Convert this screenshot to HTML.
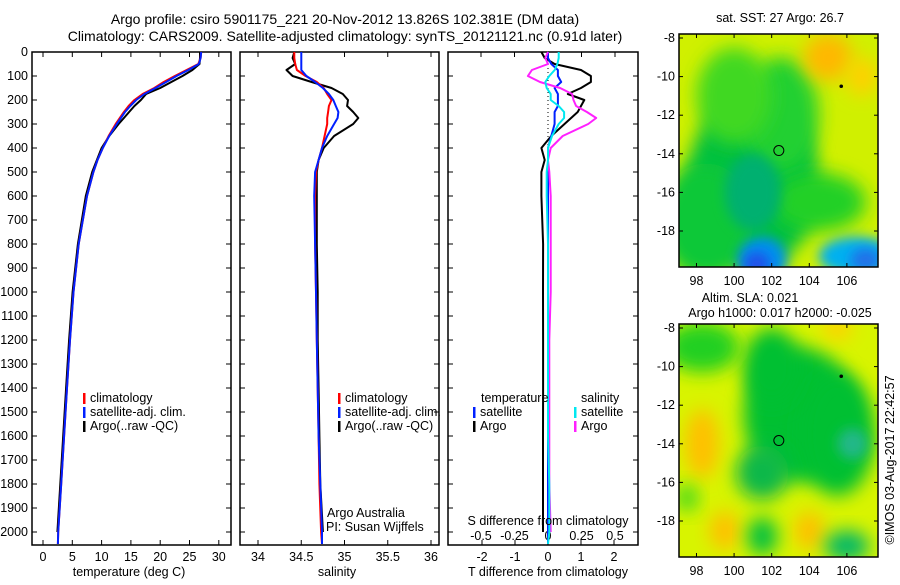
<!DOCTYPE html>
<html><head><meta charset="utf-8">
<style>
html,body{margin:0;padding:0;background:#fff;}
svg text{font-family:"Liberation Sans",sans-serif;font-size:12.5px;fill:#000;}
svg text.t{font-size:14px;}
</style></head>
<body>
<svg id="c" width="900" height="580" xmlns="http://www.w3.org/2000/svg">
<defs>
<filter id="b1" x="-50%" y="-50%" width="200%" height="200%"><feGaussianBlur stdDeviation="9"/></filter>
<filter id="b2" x="-50%" y="-50%" width="200%" height="200%"><feGaussianBlur stdDeviation="6"/></filter>
<clipPath id="m1"><rect x="679" y="34" width="199" height="233"/></clipPath>
<clipPath id="m2"><rect x="679" y="324" width="199" height="233"/></clipPath>
</defs>
<text class="t" x="345" y="24" text-anchor="middle">Argo profile: csiro 5901175_221 20-Nov-2012 13.826S 102.381E (DM data)</text>
<text class="t" x="345" y="41" text-anchor="middle">Climatology: CARS2009. Satellite-adjusted climatology: synTS_20121121.nc (0.91d later)</text>
<g id="maps"></g>
<g id="plots"></g>
<text transform="translate(894,460) rotate(-90)" text-anchor="middle">©IMOS 03-Aug-2017 22:42:57</text>
</svg>
<script>
const depths = [0,25,50,75,100,125,150,175,200,225,250,275,300,350,400,450,500,600,800,1000,1200,1400,1600,1800,2000,2050];
const climT = [27,26.9,26.5,24.5,22.5,20.6,19,17,15.6,14.6,13.8,13.1,12.4,11.2,10.2,9.3,8.6,7.5,6.1,5.2,4.6,4.1,3.6,3.1,2.6,2.55];
const satT  = [27,26.9,26.6,24.8,22.8,21,19.2,17.3,15.9,14.9,14,13.3,12.6,11.3,10.2,9.3,8.6,7.5,6.1,5.2,4.6,4.1,3.6,3.1,2.6,2.55];
const argoT = [26.8,26.8,26.7,25.5,23.8,21.9,20,17.6,16.7,15.6,14.7,13.8,12.9,11.3,10.0,9.2,8.4,7.3,5.95,5.05,4.45,3.95,3.45,2.95,2.45,null];
const climS = [34.42,34.42,34.43,34.45,34.55,34.68,34.76,34.8,34.85,34.82,34.81,34.8,34.8,34.77,34.74,34.7,34.67,34.66,34.66,34.67,34.68,34.69,34.7,34.71,34.73,34.74];
const satS  = [34.5,34.5,34.5,34.5,34.56,34.66,34.75,34.82,34.87,34.9,34.93,34.92,34.88,34.8,34.74,34.7,34.66,34.65,34.66,34.67,34.68,34.69,34.7,34.72,34.74,34.74];
const argoS = [34.42,34.4,34.43,34.33,34.4,34.62,34.85,34.98,35.04,35.03,35.1,35.16,35.1,34.88,34.76,34.7,34.68,34.68,34.68,34.69,34.69,34.7,34.71,34.72,34.75,null];
const depthTicks = [0,100,200,300,400,500,600,700,800,900,1000,1100,1200,1300,1400,1500,1600,1700,1800,1900,2000];
const tTicks = [0,5,10,15,20,25,30];
const sTicks = [34,34.5,35,35.5,36];
const dTTicks = [-2,-1,0,1,2];
const dSTicks = [-0.5,-0.25,0,0.25,0.5];
const dSLabels = ["-0.5","-0.25","0","0.25","0.5"];
const lonTicks = [98,100,102,104,106];
const latTicks = [-8,-10,-12,-14,-16,-18];

const NS="http://www.w3.org/2000/svg";
const plots=document.getElementById('plots');
const maps=document.getElementById('maps');
function mk(tag,attrs,parent){const e=document.createElementNS(NS,tag);for(const k in attrs)e.setAttribute(k,attrs[k]);(parent||plots).appendChild(e);return e;}
function txt(x,y,s,anchor,parent){const t=mk('text',{x:x,y:y,'text-anchor':anchor||'start'},parent);t.textContent=s;return t;}
const Y0=52,Y1=545;
const yD=d=>Y0+d*0.24;
const xT=v=>43+v*5.86;
const xS=v=>258+(v-34)*86.5;
const xDT=v=>548+v*33;
const xDS=v=>548+v*134;

function frame(x0,x1,name){
  const r=mk('rect',{x:x0,y:Y0,width:x1-x0,height:Y1-Y0,fill:'none',stroke:'#000','stroke-width':1.5});
  
  
  depthTicks.forEach(d=>{
    mk('line',{x1:x0,x2:x0+5,y1:yD(d),y2:yD(d),stroke:'#000'});
    mk('line',{x1:x1,x2:x1-5,y1:yD(d),y2:yD(d),stroke:'#000'});
  });
}
function xticks(vals,fx,labels,x0,x1,ly,top){
  vals.forEach((v,i)=>{
    const x=fx(v);
    mk('line',{x1:x,x2:x,y1:Y1,y2:Y1-5,stroke:'#000'});
    if(top) mk('line',{x1:x,x2:x,y1:Y0,y2:Y0+5,stroke:'#000'});
    const t=txt(x,ly,labels[i],'middle');
    
    
  });
}
function line(vals,fx,color,name){
  let d='';
  vals.forEach((v,i)=>{if(v===null)return;d+=(d?'L':'M')+fx(v).toFixed(1)+','+yD(depths[i]).toFixed(1);});
  const p=mk('path',{d:d,fill:'none',stroke:color,'stroke-width':2,'stroke-linejoin':'round'});
  
  
}
function legend(x,y,color,label){
  mk('rect',{x:x,y:y-9,width:2.5,height:11,fill:color});
  const t=txt(x+7,y,label);
  
  
}

depthTicks.forEach(d=>{const t=txt(28,yD(d)+4,String(d),'end');
  
  });

frame(32,231,'temperature-panel');
xticks(tTicks,xT,tTicks.map(String),32,231,561,true);
line(argoT,xT,'#000','argo-temperature-line');
line(climT,xT,'#f00','climatology-temperature-line');
line(satT,xT,'#0020ff','satellite-temperature-line');
legend(83,402,'#f00','climatology');legend(83,416,'#0020ff','satellite-adj. clim.');legend(83,430,'#000','Argo(..raw -QC)');
{const t=txt(129,576,'temperature (deg C)','middle');}

frame(240,439,'salinity-panel');
xticks(sTicks,xS,sTicks.map(String),240,439,561,true);
line(argoS,xS,'#000','argo-salinity-line');
line(climS,xS,'#f00','climatology-salinity-line');
line(satS,xS,'#0020ff','satellite-salinity-line');
legend(338,402,'#f00','climatology');legend(338,416,'#0020ff','satellite-adj. clim.');legend(338,430,'#000','Argo(..raw -QC)');
txt(327,517,'Argo Australia');txt(326,531,'PI: Susan Wijffels');
{const t=txt(337,576,'salinity','middle');}

frame(448,638,'difference-panel');
mk('line',{x1:548,x2:548,y1:Y0,y2:Y1,stroke:'#000','stroke-dasharray':'1,3'});
xticks(dTTicks,xDT,dTTicks.map(String),448,638,561,false);
dSTicks.forEach((v,i)=>{const x=xDS(v);mk('line',{x1:x,x2:x,y1:Y0,y2:Y0+5,stroke:'#000'});
  const t=txt(x,540,dSLabels[i],'middle');});
const dTsat=satT.map((v,i)=>v-climT[i]);
const dTargo=argoT.map((v,i)=>v===null?null:v-climT[i]);
const dSsat=satS.map((v,i)=>v-climS[i]);
const dSargo=argoS.map((v,i)=>v===null?null:v-climS[i]);
line(dTargo,xDT,'#000','argo-temperature-difference-line');
line(dTsat,xDT,'#0020ff','satellite-temperature-difference-line');
line(dSargo,xDS,'#ff20ff','argo-salinity-difference-line');
line(dSsat,xDS,'#00e8f0','satellite-salinity-difference-line');
txt(481,402,'temperature');txt(581,402,'salinity');
legend(473,416,'#0020ff','satellite');legend(473,430,'#000','Argo');
legend(574,416,'#00e8f0','satellite');legend(574,430,'#ff20ff','Argo');
txt(548,525,'S difference from climatology','middle');
{const t=txt(548,576,'T difference from climatology','middle');}

const lonX=l=>679+(l-97.07)*18.8;
const latY=(l,top)=>top+4+(-8-l)*19.3;
function blob(g,lon,lat,rx,ry,color,top,f){
  mk('ellipse',{cx:lonX(lon),cy:latY(lat,top),rx:rx*18.8,ry:ry*19.3,fill:color,filter:f||'url(#b1)'},g);
}
function map(top,clip,base,blobs,name){
  const g=mk('g',{'clip-path':'url(#'+clip+')'},maps);
  
  
  mk('rect',{x:679,y:top,width:199,height:233,fill:base},g);
  blobs.forEach(b=>blob(g,b[0],b[1],b[2],b[3],b[4],top,b[5]));
  mk('rect',{x:679,y:top,width:199,height:233,fill:'none',stroke:'#000','stroke-width':1.5},maps);
  lonTicks.forEach(l=>{const x=lonX(l);mk('line',{x1:x,x2:x,y1:top,y2:top+4,stroke:'#000'},maps);mk('line',{x1:x,x2:x,y1:top+233,y2:top+229,stroke:'#000'},maps);txt(x,top+251,String(l),'middle',maps);});
  latTicks.forEach(l=>{const y=latY(l,top);mk('line',{x1:679,x2:683,y1:y,y2:y,stroke:'#000'},maps);mk('line',{x1:878,x2:874,y1:y,y2:y,stroke:'#000'},maps);txt(675,y+4,String(l),'end',maps);});
  const c=mk('circle',{cx:lonX(102.38),cy:latY(-13.83,top),r:5,fill:'none',stroke:'#000'},maps);
  
  
  mk('circle',{cx:lonX(105.7),cy:latY(-10.5,top),r:1.8,fill:'#000'},maps);
}
map(34,'m1','#d0f000',[
  [101,-15.5,3.5,4.5,'#00c040'],[98.5,-17.5,2.5,3,'#10c838'],[102.5,-12,2,3,'#20d030'],[100,-11,2,2.5,'#40d820'],
  [104.5,-16.5,2.5,1.5,'#20d028'],[101.5,-19.5,1.3,1.2,'#0090f0','url(#b2)'],
  [101.2,-19.7,0.7,0.6,'#2050e8','url(#b2)'],[106.5,-19.3,2,1,'#00b0f0','url(#b2)'],[107,-19.5,0.8,0.6,'#2070e8','url(#b2)'],
  [105,-9,1.3,1.2,'#ffb800'],[106.8,-10,0.8,1,'#ffd000'],[101,-16,1.5,2,'#00b070','url(#b2)']
],'sst-map');
map(324,'m2','#d8f400',[
  [103.5,-12.5,3,3.5,'#00c030'],[105.5,-13.5,2,3.2,'#00c030'],[102,-10,1.5,2,'#00c030'],[101.5,-15.5,1.4,1.4,'#10b848'],
  [106.3,-14,0.8,0.8,'#20b888','url(#b2)'],[98.3,-9,2,1.3,'#20d020'],[98.3,-14,0.9,1.8,'#ffc000'],[99.5,-18.5,0.8,1,'#ffc000'],
  [104,-18.5,0.8,1,'#ffc000'],[105.5,-8,0.8,0.6,'#ffd000'],[101.5,-18.8,0.8,1,'#00c040'],[106,-19.3,1.2,0.8,'#00b868'],
  [97.5,-16.8,0.6,0.7,'#40d820']
],'sla-map');
txt(780,22,'sat. SST: 27 Argo: 26.7','middle',maps);
txt(750,302,'Altim. SLA: 0.021','middle',maps);
txt(780,317,'Argo h1000: 0.017 h2000: -0.025','middle',maps);
</script>
</body></html>
